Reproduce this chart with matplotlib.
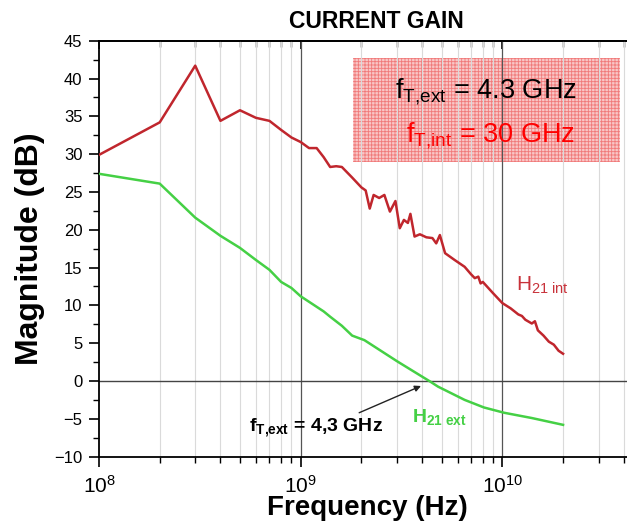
import math
import matplotlib
matplotlib.use("Agg")
import matplotlib.pyplot as plt
from matplotlib.ticker import MultipleLocator, LogLocator, NullFormatter, FuncFormatter
from matplotlib.patches import Rectangle

plt.rcParams['font.family'] = ['Liberation Sans', 'DejaVu Sans']
plt.rcParams['mathtext.fontset'] = 'custom'
plt.rcParams['mathtext.rm'] = 'Liberation Sans'
plt.rcParams['mathtext.it'] = 'Liberation Sans'
plt.rcParams['mathtext.bf'] = 'Liberation Sans:bold'
plt.rcParams['hatch.linewidth'] = 0.6

# H21 intrinsic (red)
freq_int = [1e8, 2e8, 3e8, 4e8, 5e8, 6e8, 7e8, 8e8, 9e8, 1.0e9,
            1.1e9, 1.2e9, 1.3e9, 1.4e9, 1.5e9, 1.6e9, 1.8e9, 2.0e9, 2.1e9, 2.2e9,
            2.3e9, 2.45e9, 2.6e9, 2.77e9, 2.95e9, 3.1e9, 3.25e9, 3.4e9, 3.5e9, 3.67e9,
            3.9e9, 4.2e9, 4.5e9, 4.7e9, 4.9e9, 5.2e9, 5.8e9, 6.5e9, 7.0e9, 7.3e9,
            7.6e9, 7.8e9, 8.0e9, 9.0e9, 1.0e10, 1.1e10, 1.2e10, 1.25e10, 1.3e10, 1.4e10,
            1.45e10, 1.5e10, 1.6e10, 1.7e10, 1.8e10, 1.9e10, 2.0e10]
h21_int = [29.9, 34.2, 41.7, 34.4, 35.8, 34.8, 34.4, 33.2, 32.2, 31.6,
           30.8, 30.8, 29.6, 28.3, 28.4, 28.3, 26.9, 25.6, 25.2, 22.8,
           24.6, 24.2, 24.6, 22.4, 23.8, 20.2, 21.3, 20.9, 22.1, 19.1,
           19.4, 19.0, 18.9, 18.2, 19.3, 16.9, 16.0, 15.1, 14.1, 13.6,
           13.8, 12.9, 13.1, 11.6, 10.3, 9.6, 8.8, 8.6, 8.1, 7.6,
           7.9, 6.7, 6.0, 5.2, 4.8, 4.0, 3.6]

# H21 extrinsic (green)
freq_ext = [1e8, 2e8, 3e8, 4e8, 5e8, 6e8, 7e8, 8e8, 9e8, 1.0e9,
            1.3e9, 1.4e9, 1.6e9, 1.8e9, 2.07e9, 3.03e9, 4.4e9, 4.8e9, 6.5e9, 8.1e9,
            1.02e10, 1.4e10, 2.0e10]
h21_ext = [27.4, 26.1, 21.6, 19.2, 17.6, 16.0, 14.7, 13.1, 12.3, 11.2,
           9.2, 8.5, 7.3, 6.0, 5.4, 2.55, -0.1, -0.75, -2.5, -3.5,
           -4.2, -4.9, -5.8]

W, H = 627, 523
fig = plt.figure(figsize=(W / 100, H / 100), dpi=100)
ax = fig.add_axes([99 / W, 1 - 456.6 / H, 1 - 99 / W, (456.6 - 40.7) / H])

ax.set_xscale('log')
ax.set_xlim(1e8, 4.15e10)
ax.set_ylim(-10, 45)

# grid lines (vertical only) and zero line
for dec in [1e8, 1e9, 1e10]:
    for k in range(2, 10):
        if dec * k < 4.15e10:
            ax.axvline(dec * k, color='#dadada', lw=0.8, zorder=1)
for f in [1e9, 1e10]:
    ax.axvline(f, color='#555555', lw=0.9, zorder=1)
ax.axhline(0, color='#444444', lw=1.0, zorder=1)

# info box
box = Rectangle((353 / W, 1 - 162 / H), 267 / W, 104 / H, transform=fig.transFigure,
                facecolor='#f9c6c6', edgecolor='#f07a7a', hatch='+++++', lw=0, zorder=0.5)
ax.add_patch(box)
fig.text(486 / W, 1 - 98 / H, r'$\mathregular{f_{T{,}ext}}$ = 4.3 GHz', fontsize=19.5,
         color='black', ha='center', va='baseline')
fig.text(491 / W, 1 - 141.7 / H, r'$\mathregular{f_{T{,}int}}$ = 30 GHz', fontsize=19.5,
         color='#ff0000', ha='center', va='baseline')

ax.plot(freq_int, h21_int, color='#c0262d', lw=1.8, zorder=3)
ax.plot(freq_ext, h21_ext, color='#45d045', lw=1.8, zorder=3)

ax.text(1.17e10, 12.0, r'$\mathregular{H_{21\ int}}$', fontsize=15, color='#c8323a',
        ha='left', va='baseline')
ax.text(3.55e9, -5.4, r'$\mathbf{H_{21\ ext}}$', fontsize=14, color='#45d045',
        ha='left', va='baseline')

ax.annotate('', xy=(3.95e9, -0.66), xytext=(1.95e9, -4.2),
            arrowprops=dict(arrowstyle='-|>', color='#222222', lw=1.0,
                            mutation_scale=9, shrinkA=0, shrinkB=0))
fig.text(249 / W, 1 - 431.7 / H, r'$\mathbf{f_{T{,}ext}}$ = 4,3 GHz', fontsize=14,
         fontweight='bold', ha='left', va='baseline')

# axes styling
ax.spines['right'].set_visible(False)
for s in ['left', 'bottom', 'top']:
    ax.spines[s].set_linewidth(1.3)
ax.yaxis.set_major_locator(MultipleLocator(5))
ax.yaxis.set_minor_locator(MultipleLocator(2.5))
ax.xaxis.set_major_locator(LogLocator(base=10, numticks=10))
ax.xaxis.set_minor_locator(LogLocator(base=10, subs=range(2, 10), numticks=20))
ax.xaxis.set_minor_formatter(NullFormatter())
ax.xaxis.set_major_formatter(FuncFormatter(lambda v, p: r'$\mathregular{10^{%d}}$' % round(math.log10(v))))
ax.tick_params(axis='y', which='major', direction='out', length=7, width=1.2, labelsize=12, pad=5)
ax.tick_params(axis='y', which='minor', direction='out', length=4, width=1.0)
ax.tick_params(axis='x', which='major', direction='out', length=7, width=1.2, labelsize=15, pad=6)
ax.tick_params(axis='x', which='minor', direction='out', length=4, width=1.0)

top = ax.secondary_xaxis('top')
top.xaxis.set_major_locator(LogLocator(base=10, numticks=10))
top.xaxis.set_minor_locator(LogLocator(base=10, subs=range(2, 10), numticks=20))
top.xaxis.set_major_formatter(NullFormatter())
top.xaxis.set_minor_formatter(NullFormatter())
top.tick_params(which='major', direction='in', length=6, width=1.2)
top.tick_params(which='minor', direction='in', length=4, width=1.0)
top.spines['top'].set_linewidth(1.3)

fig.text(376 / W, 1 - 28 / H, 'CURRENT GAIN', fontsize=16.5, fontweight='bold',
         ha='center', va='baseline')
fig.text(367.5 / W, 1 - 515 / H, 'Frequency (Hz)', fontsize=20, fontweight='bold',
         ha='center', va='baseline')
fig.text(30 / W, 1 - 249 / H, 'Magnitude (dB)', fontsize=23, fontweight='bold',
         ha='center', va='center', rotation=90)

fig.savefig('out.png', dpi=100)
